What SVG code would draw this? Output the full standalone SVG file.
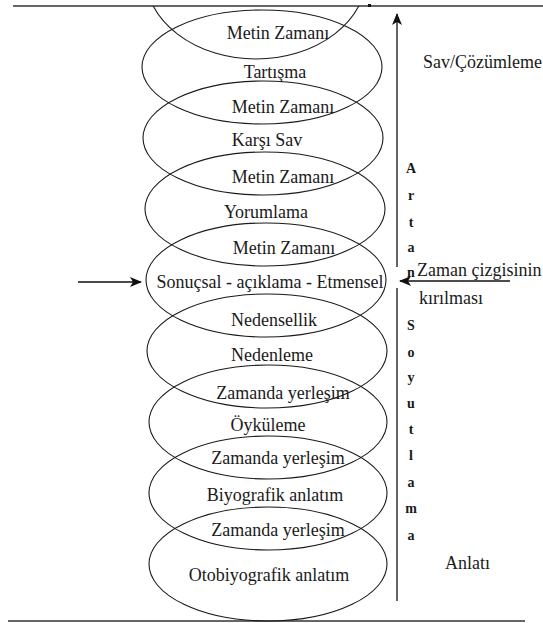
<svg xmlns="http://www.w3.org/2000/svg" width="543" height="623" viewBox="0 0 543 623">
<style>
.e{fill:none;stroke:#1a1a1a;stroke-width:1.1}
.t{font-family:"Liberation Serif","Times New Roman",serif;font-size:18px;fill:#1a1a1a;text-anchor:middle}
.r{font-family:"Liberation Serif","Times New Roman",serif;font-size:18px;fill:#1a1a1a}
.b{font-family:"Liberation Serif","Times New Roman",serif;font-size:14px;font-weight:bold;fill:#1a1a1a;text-anchor:middle}
.ln{stroke:#333;stroke-width:1.5;fill:none}
.ar{stroke:#111;stroke-width:1.3;fill:none}
</style>
<defs>
<clipPath id="clipTop"><rect x="0" y="6" width="543" height="617"/></clipPath>
<marker id="ah" viewBox="0 0 12 10" refX="11" refY="5" markerWidth="12" markerHeight="10" markerUnits="userSpaceOnUse" orient="auto">
<path d="M0,0 L12,5 L0,10 L3,5 Z" fill="#111"/>
</marker>
</defs>
<rect width="543" height="623" fill="#fff"/>
<g id="frame">
<line x1="13" y1="6" x2="543" y2="6" class="ln"/>
<rect x="368" y="4" width="3" height="3" fill="#111"/>
<line x1="8" y1="621" x2="525" y2="621" class="ln" stroke="#666"/>
</g>
<g id="node-top">
<ellipse class="e" cx="256" cy="-26" rx="111" ry="85" clip-path="url(#clipTop)"/>
<text class="t" x="278" y="39">Metin Zamanı</text>
</g>
<g id="node-tartisma">
<ellipse class="e" cx="262" cy="67" rx="120" ry="57"/>
<text class="t" x="275" y="78">Tartışma</text>
<text class="t" x="283" y="113">Metin Zamanı</text>
</g>
<g id="node-karsisav">
<ellipse class="e" cx="263" cy="138" rx="120" ry="57"/>
<text class="t" x="267" y="146">Karşı Sav</text>
<text class="t" x="283" y="183">Metin Zamanı</text>
</g>
<g id="node-yorumlama">
<ellipse class="e" cx="265" cy="209" rx="120" ry="57"/>
<text class="t" x="266" y="218">Yorumlama</text>
<text class="t" x="284" y="254">Metin Zamanı</text>
</g>
<g id="node-sonucsal">
<ellipse class="e" cx="266" cy="280" rx="120" ry="57"/>
<text class="t" x="270" y="288">Sonuçsal - açıklama - Etmensel</text>
<text class="t" x="274" y="326">Nedensellik</text>
</g>
<g id="node-nedenleme">
<ellipse class="e" cx="267" cy="351" rx="120" ry="57"/>
<text class="t" x="272" y="361">Nedenleme</text>
<text class="t" x="283" y="399">Zamanda yerleşim</text>
</g>
<g id="node-oykuleme">
<ellipse class="e" cx="268" cy="422" rx="119" ry="57"/>
<text class="t" x="268" y="431">Öyküleme</text>
<text class="t" x="278" y="464">Zamanda yerleşim</text>
</g>
<g id="node-biyografik">
<ellipse class="e" cx="268" cy="493" rx="119" ry="57"/>
<text class="t" x="275" y="501">Biyografik anlatım</text>
<text class="t" x="278" y="536">Zamanda yerleşim</text>
</g>
<g id="node-otobiyografik">
<ellipse class="e" cx="268" cy="564" rx="119" ry="57"/>
<text class="t" x="269" y="581">Otobiyografik anlatım</text>
</g>
<g id="connectors">
<line x1="397" y1="601" x2="397" y2="288" class="ln"/>
<line x1="397" y1="267" x2="397" y2="14" class="ar" marker-end="url(#ah)"/>
<line x1="510" y1="281" x2="400" y2="281" class="ar" marker-end="url(#ah)"/>
<line x1="78" y1="282" x2="141" y2="282" class="ar" marker-end="url(#ah)"/>
</g>
<g id="labels">
<text class="r" x="423" y="68">Sav/Çözümleme</text>
<text class="r" x="417" y="276" font-size="17">Zaman çizgisinin</text>
<text class="r" x="419" y="304" font-size="17">kırılması</text>
<text class="r" x="445" y="569">Anlatı</text>
<text class="b" x="411" y="173">A</text>
<text class="b" x="411" y="200">r</text>
<text class="b" x="411" y="227">t</text>
<text class="b" x="411" y="252">a</text>
<text class="b" x="411" y="277">n</text>
<text class="b" x="411" y="330">S</text>
<text class="b" x="411" y="357">o</text>
<text class="b" x="411" y="382">y</text>
<text class="b" x="411" y="408">u</text>
<text class="b" x="411" y="434">t</text>
<text class="b" x="411" y="460">l</text>
<text class="b" x="411" y="487">a</text>
<text class="b" x="411" y="513">m</text>
<text class="b" x="411" y="540">a</text>
</g>
</svg>
